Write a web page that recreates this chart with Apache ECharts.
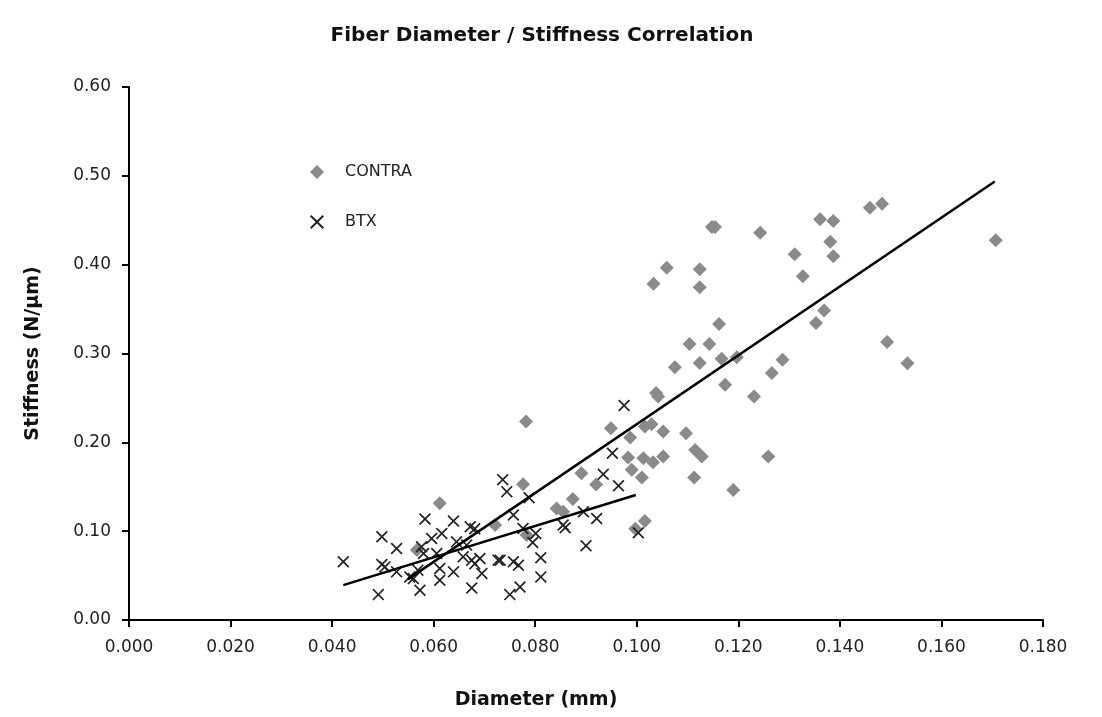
<!DOCTYPE html>
<html>
<head>
<meta charset="utf-8">
<script src="https://cdn.jsdelivr.net/npm/echarts@6/dist/echarts.min.js"></script>
<style>
html, body { margin: 0; padding: 0; background: #fff; }
#main { width: 1102px; height: 717px; }
</style>
</head>
<body>
<div id="main"></div>
<script>
// diameter (mm) / stiffness (N/µm) pairs
var contraX = [0.1148, 0.1154, 0.1243, 0.1361, 0.1387, 0.1459, 0.1483, 0.1381, 0.1387, 0.1311,
    0.1327, 0.1059, 0.1124, 0.1033, 0.1124, 0.1162, 0.1104, 0.1143, 0.1369, 0.1353,
    0.1493, 0.1533, 0.1707, 0.1075, 0.1124, 0.1167, 0.1197, 0.1287, 0.1266, 0.1174,
    0.1231, 0.1038, 0.1042, 0.0949, 0.0987, 0.1016, 0.1029, 0.1052, 0.1097, 0.0983,
    0.1013, 0.1032, 0.1052, 0.1115, 0.1128, 0.1259, 0.0990, 0.1010, 0.1113, 0.1190,
    0.0891, 0.0920, 0.0874, 0.0842, 0.0855, 0.0776, 0.0782, 0.0783, 0.1016, 0.0997,
    0.0721, 0.0612, 0.0567];
var contraY = [0.4424, 0.4424, 0.4360, 0.4511, 0.4492, 0.4642, 0.4687, 0.4258, 0.4094, 0.4116,
    0.3871, 0.3965, 0.3947, 0.3784, 0.3747, 0.3333, 0.3107, 0.3107, 0.3484, 0.3344,
    0.3130, 0.2889, 0.4274, 0.2844, 0.2893, 0.2942, 0.2957, 0.2931, 0.2780, 0.2649,
    0.2517, 0.2554, 0.2517, 0.2159, 0.2054, 0.2178, 0.2204, 0.2122, 0.2103, 0.1828,
    0.1821, 0.1775, 0.1840, 0.1915, 0.1840, 0.1840, 0.1690, 0.1603, 0.1603, 0.1464,
    0.1651, 0.1524, 0.1362, 0.1256, 0.1219, 0.1527, 0.2235, 0.0956, 0.1114, 0.1027,
    0.1069, 0.1313, 0.0787];

var btxX = [0.0422, 0.0491, 0.0498, 0.0498, 0.0504, 0.0527, 0.0527, 0.0553, 0.0560, 0.0569,
    0.0583, 0.0576, 0.0580, 0.0573, 0.0596, 0.0616, 0.0606, 0.0612, 0.0612, 0.0639,
    0.0645, 0.0639, 0.0658, 0.0672, 0.0681, 0.0665, 0.0675, 0.0681, 0.0691, 0.0695,
    0.0675, 0.0727, 0.0736, 0.0744, 0.0757, 0.0788, 0.0776, 0.0801, 0.0795, 0.0757,
    0.0767, 0.0731, 0.0811, 0.0811, 0.0770, 0.0750, 0.0855, 0.0859, 0.0895, 0.0921,
    0.0900, 0.0934, 0.0952, 0.0964, 0.0975, 0.1003];
var btxY = [0.0655, 0.0286, 0.0937, 0.0624, 0.0598, 0.0805, 0.0542, 0.0485, 0.0466, 0.0561,
    0.1137, 0.0824, 0.0748, 0.0335, 0.0918, 0.0974, 0.0748, 0.0579, 0.0448, 0.1114,
    0.0880, 0.0542, 0.0711, 0.1050, 0.1027, 0.0843, 0.0674, 0.0632, 0.0692, 0.0523,
    0.0361, 0.0674, 0.1580, 0.1445, 0.1182, 0.1377, 0.1030, 0.0974, 0.0872, 0.0655,
    0.0617, 0.0674, 0.0700, 0.0485, 0.0372, 0.0286, 0.1069, 0.1038, 0.1219, 0.1143,
    0.0835, 0.1640, 0.1877, 0.1512, 0.2415, 0.0982];

// trend line end points
var contraTrend = [[0.0549, 0.0457], [0.1705, 0.4936]];
var btxTrend = [[0.0422, 0.0392], [0.0998, 0.1407]];

var xTicks = [0, 0.18, 0.02];
var yTicks = [0, 0.6, 0.1];

function pairs(xs, ys) {
    var out = [];
    for (var i = 0; i < xs.length; i++) out.push([xs[i], ys[i]]);
    return out;
}

var crossPath = 'path://M0,1L1,0L5,4L9,0L10,1L6,5L10,9L9,10L5,6L1,10L0,9L4,5Z';
var font = 'Verdana, "DejaVu Sans", sans-serif';

var myChart = echarts.init(document.getElementById('main'));

var option = {
    backgroundColor: '#fff',
    animation: false,
    title: {
        text: 'Fiber Diameter / Stiffness Correlation',
        left: 537,
        textAlign: 'center',
        top: 21,
        textStyle: {fontFamily: font, fontWeight: 'bold', fontSize: 20, color: '#111'}
    },
    legend: {
        orient: 'vertical',
        left: 305,
        top: 159,
        itemGap: 34,
        itemWidth: 14,
        itemHeight: 14,
        textStyle: {fontFamily: font, fontSize: 16, color: '#222', padding: [0, 0, 0, 16]},
        data: ['CONTRA', 'BTX']
    },
    grid: {left: 129, right: 59, top: 87, bottom: 97},
    xAxis: {
        type: 'value',
        min: xTicks[0],
        max: xTicks[1],
        interval: xTicks[2],
        name: 'Diameter (mm)',
        nameLocation: 'middle',
        nameGap: 71,
        nameTextStyle: {fontFamily: font, fontWeight: 'bold', fontSize: 19, color: '#111', padding: [0, 100, 0, 0]},
        splitLine: {show: false},
        axisLine: {lineStyle: {color: '#000', width: 2}},
        axisTick: {length: 7, lineStyle: {color: '#000', width: 2}},
        axisLabel: {
            fontFamily: font, fontSize: 17, color: '#222', margin: 19,
            formatter: function (v) { return v.toFixed(3); }
        }
    },
    yAxis: {
        type: 'value',
        min: yTicks[0],
        max: yTicks[1],
        interval: yTicks[2],
        name: 'Stiffness (N/µm)',
        nameLocation: 'middle',
        nameGap: 86,
        nameTextStyle: {fontFamily: font, fontWeight: 'bold', fontSize: 19, color: '#111'},
        splitLine: {show: false},
        axisLine: {show: true, lineStyle: {color: '#000', width: 2}},
        axisTick: {show: true, length: 7, lineStyle: {color: '#000', width: 2}},
        axisLabel: {
            fontFamily: font, fontSize: 17, color: '#222', margin: 18,
            formatter: function (v) { return v.toFixed(2); }
        }
    },
    series: [
        {
            name: 'CONTRA',
            type: 'scatter',
            symbol: 'diamond',
            symbolSize: 14,
            itemStyle: {color: '#8a8a8a', opacity: 1},
            data: pairs(contraX, contraY),
            z: 2
        },
        {
            name: 'BTX',
            type: 'scatter',
            symbol: crossPath,
            symbolSize: 12,
            itemStyle: {color: '#222', opacity: 1},
            data: pairs(btxX, btxY),
            z: 3
        },
        {
            name: 'CONTRA trend',
            type: 'line',
            showSymbol: false,
            lineStyle: {color: '#000', width: 2.5},
            data: contraTrend,
            z: 4
        },
        {
            name: 'BTX trend',
            type: 'line',
            showSymbol: false,
            lineStyle: {color: '#000', width: 2.5},
            data: btxTrend,
            z: 4
        }
    ]
};

myChart.setOption(option);
</script>
</body>
</html>
